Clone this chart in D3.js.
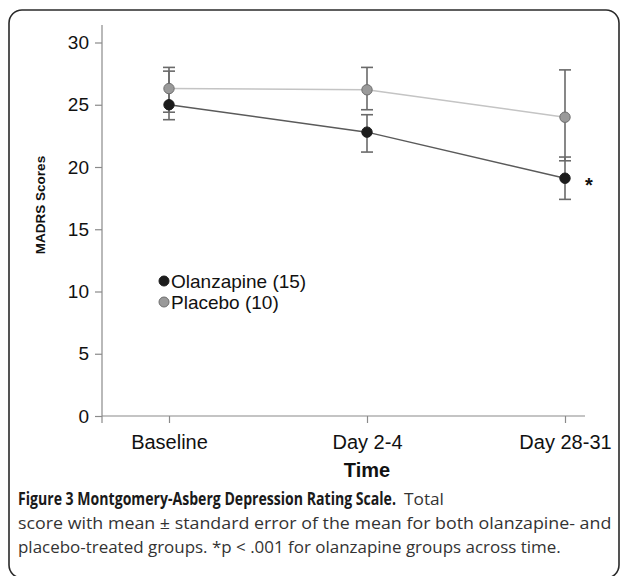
<!DOCTYPE html>
<html>
<head>
<meta charset="utf-8">
<script src="https://cdn.jsdelivr.net/npm/d3@7"></script>
<style>
  html, body { margin: 0; padding: 0; background: #fff; }
  svg { display: block; }
</style>
</head>
<body>
<script>
// ---- data ----
const categories = ["Baseline", "Day 2-4", "Day 28-31"];
const olanzapineMean = [25.0, 22.8, 19.1];
const olanzapineLow  = [23.8, 21.2, 17.4];
const olanzapineHigh = [27.7, 24.2, 20.8];
const placeboMean = [26.3, 26.2, 24.0];
const placeboLow  = [24.4, 24.6, 20.5];
const placeboHigh = [28.0, 28.0, 27.8];
const yTicks = [0, 5, 10, 15, 20, 25, 30];
const seriesNames = ["Olanzapine (15)", "Placebo (10)"];
const significance = "*";
const yTitle = "MADRS Scores";
const xTitle = "Time";

const W = 625, H = 576;
const svg = d3.select("body").append("svg").attr("width", W).attr("height", H);

// frame
svg.append("rect").attr("x", 9).attr("y", 10).attr("width", 610).attr("height", 568)
  .attr("rx", 13).attr("fill", "none").attr("stroke", "#2a2a2a").attr("stroke-width", 1.6);

const axisX0 = 102, axisX1 = 585;
const x = d3.scalePoint().domain(categories).range([169, 565]);
const y = d3.scaleLinear().domain([0, 30]).range([416, 42.5]);

const axisColor = "#8a8a8a";
const font = "'Liberation Sans', Arial, Helvetica, sans-serif";

// y axis
const gy = svg.append("g").attr("transform", `translate(${axisX0},0)`)
  .call(d3.axisLeft(y).tickValues(yTicks).tickSize(7).tickSizeOuter(0).tickPadding(6));
gy.select(".domain").remove();
gy.selectAll(".tick line").attr("stroke", axisColor).attr("stroke-width", 1.2);
gy.selectAll(".tick text").attr("font-family", font).attr("font-size", 19).attr("fill", "#111");
svg.append("line").attr("x1", axisX0).attr("x2", axisX0).attr("y1", 25).attr("y2", 423)
  .attr("stroke", axisColor).attr("stroke-width", 1.2);

// x axis
const gx = svg.append("g").attr("transform", `translate(0,${y(0)})`)
  .call(d3.axisBottom(x).tickSize(7).tickSizeOuter(0).tickPadding(12));
gx.select(".domain").remove();
gx.selectAll(".tick line").attr("stroke", axisColor).attr("stroke-width", 1.2);
gx.selectAll(".tick text").attr("font-family", font).attr("font-size", 20).attr("fill", "#111");
svg.append("line").attr("x1", axisX0).attr("x2", axisX1).attr("y1", y(0)).attr("y2", y(0))
  .attr("stroke", axisColor).attr("stroke-width", 1.2);

// axis titles
svg.append("text").attr("x", x(categories[1])).attr("y", 477).attr("text-anchor", "middle")
  .attr("font-family", font).attr("font-weight", "bold").attr("font-size", 20).attr("fill", "#111")
  .text(xTitle);
svg.append("text").attr("transform", "translate(45,205) rotate(-90)").attr("text-anchor", "middle")
  .attr("font-family", font).attr("font-weight", "bold").attr("font-size", 13.5).attr("fill", "#111")
  .text(yTitle);

const series = [
  { mean: placeboMean, lo: placeboLow, hi: placeboHigh, line: "#c4c4c4", fill: "#9a9a9a", stroke: "#6e6e6e" },
  { mean: olanzapineMean, lo: olanzapineLow, hi: olanzapineHigh, line: "#5a5a5a", fill: "#1c1c1c", stroke: "#1c1c1c" }
];

const line = d3.line().x((d, i) => x(categories[i])).y(d => y(d));

series.forEach(s => {
  svg.append("path").datum(s.mean).attr("d", line).attr("fill", "none")
    .attr("stroke", s.line).attr("stroke-width", 1.5);
});

const errColor = "#6a6a6a", cap = 6;
series.forEach(s => {
  const g = svg.append("g");
  categories.forEach((c, i) => {
    const cx = x(c);
    g.append("line").attr("x1", cx).attr("x2", cx).attr("y1", y(s.lo[i])).attr("y2", y(s.hi[i]))
      .attr("stroke", errColor).attr("stroke-width", 1.6);
    [s.lo[i], s.hi[i]].forEach(v => {
      g.append("line").attr("x1", cx - cap).attr("x2", cx + cap).attr("y1", y(v)).attr("y2", y(v))
        .attr("stroke", errColor).attr("stroke-width", 1.6);
    });
  });
});

series.forEach(s => {
  svg.append("g").selectAll("circle").data(s.mean).join("circle")
    .attr("cx", (d, i) => x(categories[i])).attr("cy", d => y(d)).attr("r", 5.2)
    .attr("fill", s.fill).attr("stroke", s.stroke).attr("stroke-width", 1);
});

// significance marker
svg.append("text").attr("x", x(categories[2]) + 24).attr("y", y(olanzapineMean[2]) + 14)
  .attr("text-anchor", "middle").attr("font-family", font).attr("font-weight", "bold")
  .attr("font-size", 20).attr("fill", "#111").text(significance);

// legend
const legendStyles = [series[1], series[0]];
seriesNames.forEach((name, i) => {
  const ly = 281 + i * 21;
  svg.append("circle").attr("cx", 164).attr("cy", ly).attr("r", 5)
    .attr("fill", legendStyles[i].fill).attr("stroke", legendStyles[i].stroke).attr("stroke-width", 1);
  svg.append("text").attr("x", 171).attr("y", ly + 7).attr("font-family", font)
    .attr("font-size", 19).attr("fill", "#111").text(name);
});

// caption: each piece is horizontally scaled to its measured width in the reference
const capFont = "'Open Sans', 'Noto Sans', sans-serif";
function captionText(str, x0, yb, target, bold) {
  const t = svg.append("text").attr("x", 0).attr("y", 0).attr("font-family", capFont)
    .attr("font-size", 17).attr("fill", bold ? "#1a1a1a" : "#333")
    .attr("font-weight", bold ? "bold" : "normal").text(str);
  const natural = t.node().getComputedTextLength() || target;
  t.attr("transform", `translate(${x0},${yb}) scale(${target / natural},1)`);
}
captionText("Figure 3 Montgomery-Asberg Depression Rating Scale.", 18, 505, 378, true);
captionText("Total", 404, 505, 40, false);
captionText("score with mean \u00b1 standard error of the mean for both olanzapine- and", 18, 529, 594, false);
captionText("placebo-treated groups. *p < .001 for olanzapine groups across time.", 18, 553, 543, false);
</script>
</body>
</html>
